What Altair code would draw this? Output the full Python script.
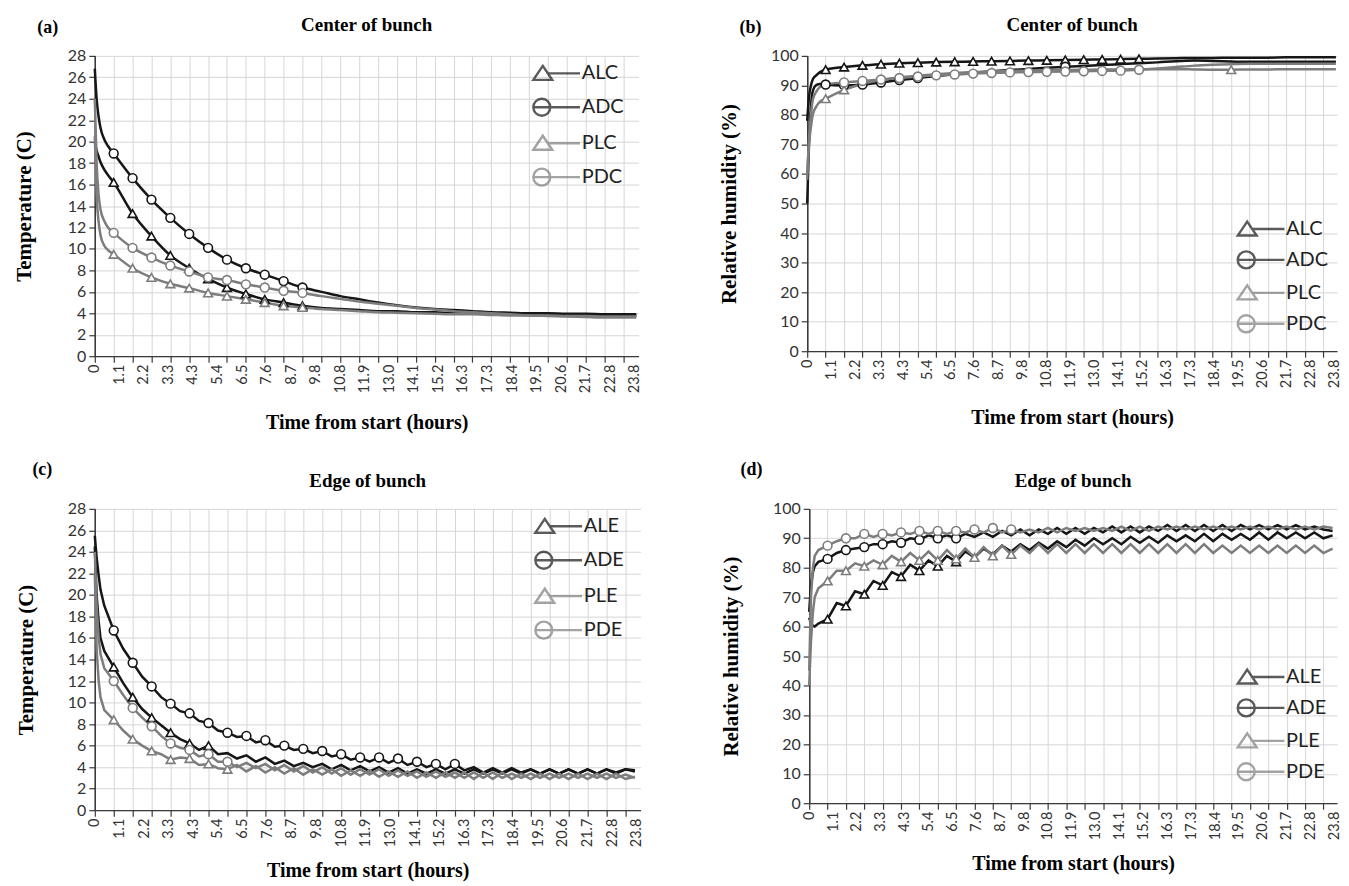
import altair as alt
import pandas as pd

# ------------------------------------------------------------------
# Series names, colours and marker shapes
# ------------------------------------------------------------------
SERIES_CENTER = ["ALC", "ADC", "PLC", "PDC"]
SERIES_EDGE = ["ALE", "ADE", "PLE", "PDE"]
LINE_COLORS = ["#161616", "#161616", "#7d7d7d", "#7d7d7d"]
MARKER_SHAPES = ["triangle-up", "circle", "triangle-up", "circle"]

# legend keys: marker + line segment (Excel style), unit = half symbol size
TRI_KEY = "M-1,0.55L-0.21,-0.62L0.58,0.55Z M0.21,0L2.9,0"
CIR_KEY = ("M0.42,0 C0.42,0.392 0.102,0.71 -0.29,0.71 C-0.682,0.71 -1,0.392 -1,0 "
           "C-1,-0.392 -0.682,-0.71 -0.29,-0.71 C0.102,-0.71 0.42,-0.392 0.42,0 Z M-1,0 L2.9,0")
KEY_PATHS = [TRI_KEY, CIR_KEY, TRI_KEY, CIR_KEY]

# ------------------------------------------------------------------
# Axis tick values
# ------------------------------------------------------------------
LOG_TICKS = [round(k * 5 / 6, 4) for k in range(0, 29)]          # 50-min category ticks
X_LABEL_POS = [round(k * 13 / 12, 4) for k in range(0, 23)]      # 0, 1.1, 2.2 ... 23.8
TEMP_TICKS = [0, 2, 4, 6, 8, 10, 12, 14, 16, 18, 20, 22, 24, 26, 28]
RH_TICKS = [0, 10, 20, 30, 40, 50, 60, 70, 80, 90, 100]

# time grids (hours)
T_AB = [0, 0.08, 0.17, 0.25, 0.42, 0.58] + LOG_TICKS[1:] + [23.9]
T_CD = [0, 0.08, 0.17, 0.25] + [round(i * 5 / 12, 4) for i in range(1, 58)]

# ------------------------------------------------------------------
# (a) Temperature, centre of bunch
# ------------------------------------------------------------------
ALC_A = [20.0, 19.2, 18.6, 18.1, 17.4, 16.9,
         16.2, 13.3, 11.2, 9.4, 8.2, 7.2, 6.4, 5.8, 5.3, 5.0,
         4.7, 4.5, 4.4, 4.3, 4.2, 4.2, 4.1, 4.1, 4.0, 4.0,
         4.0, 3.9, 3.9, 3.9, 3.9, 3.8, 3.8, 3.8,
         3.8]
ADC_A = [26.8, 24.0, 22.3, 21.3, 20.2, 19.6,
         18.9, 16.6, 14.6, 12.9, 11.4, 10.1, 9.0, 8.2, 7.6, 7.0,
         6.4, 6.0, 5.6, 5.3, 5.0, 4.75, 4.55, 4.4, 4.3, 4.2,
         4.1, 4.05, 4.0, 4.0, 3.95, 3.95, 3.9, 3.9,
         3.9]
PLC_A = [20.5, 15.0, 12.5, 11.3, 10.3, 9.9,
         9.5, 8.2, 7.35, 6.75, 6.35, 5.9, 5.6, 5.3, 5.0, 4.7,
         4.55, 4.4, 4.3, 4.2, 4.1, 4.05, 4.0, 3.95, 3.9, 3.9,
         3.85, 3.8, 3.8, 3.8, 3.75, 3.75, 3.7, 3.7,
         3.7]
PDC_A = [24.0, 18.0, 15.0, 13.7, 12.6, 12.0,
         11.5, 10.1, 9.2, 8.45, 7.9, 7.35, 7.1, 6.7, 6.4, 6.1,
         5.9, 5.6, 5.35, 5.1, 4.9, 4.7, 4.5, 4.35, 4.2, 4.1,
         4.0, 3.9, 3.8, 3.75, 3.7, 3.65, 3.6, 3.6,
         3.6]
MARKS_A = {"ALC": range(1, 12), "ADC": range(1, 12), "PLC": range(1, 12), "PDC": range(1, 12)}

# ------------------------------------------------------------------
# (b) Relative humidity, centre of bunch
# ------------------------------------------------------------------
ALC_B = [78, 86, 90, 92, 93.5, 94.5,
         95.3, 96.2, 96.8, 97.2, 97.5, 97.7, 97.9, 98.0, 98.1, 98.2,
         98.3, 98.4, 98.5, 98.6, 98.7, 98.8, 98.9, 99.0, 99.1, 99.2,
         99.3, 99.3, 99.4, 99.4, 99.4, 99.5, 99.5, 99.5,
         99.5]
ADC_B = [50, 70, 83, 88, 90.2, 90.5,
         90.3, 90.0, 90.3, 91.0, 91.8, 92.5, 93.2, 93.8, 94.3, 94.8,
         95.2, 95.6, 96.0, 96.3, 96.6, 96.9, 97.2, 97.5, 97.8, 98.2,
         98.4, 98.3, 98.1, 98.0, 98.0, 98.0, 98.0, 98.0,
         98.0]
PLC_B = [60, 70, 76, 80, 83, 84.5,
         85.5, 88.5, 90.5, 91.8, 92.7, 93.3, 93.8, 94.2, 94.5, 94.7,
         94.9, 95.0, 95.1, 95.2, 95.3, 95.4, 95.4, 95.5, 95.5, 95.5,
         95.4, 95.3, 95.3, 95.4, 95.4, 95.5, 95.5, 95.5,
         95.5]
PDC_B = [58, 72, 80, 85, 88, 89.5,
         90.3, 91.0, 91.5, 92.0, 92.5, 93.0, 93.4, 93.7, 94.0, 94.2,
         94.4, 94.5, 94.6, 94.7, 94.8, 94.9, 95.0, 95.3, 95.7, 96.2,
         96.7, 97.0, 97.2, 97.3, 97.3, 97.3, 97.3, 97.3,
         97.3]
MARKS_B = {"ALC": range(1, 19), "ADC": [1, 2, 3, 4, 5, 6, 14], "PLC": [1, 2, 23], "PDC": range(2, 19)}

# ------------------------------------------------------------------
# (c) Temperature, edge of bunch
# ------------------------------------------------------------------
ALE_C = [24.5, 20.0, 17.5, 16.0,
         14.8, 13.3, 11.8, 10.5, 9.4, 8.6, 7.9, 7.2, 6.6, 6.2,
         5.6, 6.0, 5.2, 5.3, 4.8, 5.1, 4.5, 4.9, 4.3, 4.6,
         4.1, 4.4, 4.0, 4.3, 3.8, 4.2, 3.7, 4.1, 3.6, 4.0,
         3.5, 3.9, 3.4, 3.8, 3.4, 3.8, 3.4, 3.8, 3.4, 3.8,
         3.4, 3.8, 3.4, 3.8, 3.4, 3.8, 3.4, 3.8, 3.4, 3.8,
         3.4, 3.8, 3.4, 3.8, 3.4, 3.8, 3.7]
ADE_C = [25.5, 23.5, 21.8, 20.5,
         19.0, 16.7, 15.0, 13.7, 12.4, 11.5, 10.5, 9.9, 9.2, 9.0,
         8.3, 8.1, 7.4, 7.2, 6.8, 6.9, 6.3, 6.5, 5.9, 6.0,
         5.6, 5.7, 5.3, 5.5, 5.0, 5.2, 4.7, 4.9, 4.5, 4.9,
         4.4, 4.8, 4.2, 4.5, 4.0, 4.3, 3.8, 4.3, 3.7, 4.0,
         3.5, 3.9, 3.5, 3.9, 3.5, 3.8, 3.4, 3.8, 3.4, 3.8,
         3.4, 3.8, 3.4, 3.8, 3.5, 3.8, 3.6]
PLE_C = [22.0, 15.0, 12.0, 10.5,
         9.3, 8.4, 7.4, 6.6, 6.0, 5.5, 5.2, 4.7, 4.9, 4.8,
         4.2, 4.3, 3.9, 3.8, 4.2, 3.6, 4.1, 3.5, 4.0, 3.4,
         3.9, 3.3, 3.8, 3.3, 3.8, 3.2, 3.7, 3.2, 3.7, 3.1,
         3.6, 3.1, 3.6, 3.0, 3.5, 3.0, 3.5, 3.0, 3.5, 2.9,
         3.5, 2.9, 3.5, 2.9, 3.4, 2.9, 3.4, 2.9, 3.4, 2.9,
         3.4, 2.9, 3.4, 2.9, 3.4, 2.9, 3.1]
PDE_C = [24.0, 19.0, 16.0, 14.5,
         13.2, 12.0, 10.7, 9.5, 8.6, 7.8, 6.9, 6.2, 5.8, 5.6,
         5.0, 5.2, 4.5, 4.5, 4.0, 4.4, 3.9, 4.3, 3.7, 4.2,
         3.6, 4.1, 3.5, 4.0, 3.4, 3.9, 3.3, 3.8, 3.3, 3.8,
         3.2, 3.7, 3.2, 3.6, 3.1, 3.6, 3.1, 3.5, 3.0, 3.5,
         3.0, 3.5, 3.0, 3.4, 3.0, 3.4, 3.0, 3.4, 3.0, 3.4,
         3.0, 3.4, 3.0, 3.4, 3.0, 3.3, 3.0]
MARKS_C = {"ALE": range(1, 7), "ADE": range(1, 20), "PLE": range(1, 8), "PDE": range(1, 8)}

# ------------------------------------------------------------------
# (d) Relative humidity, edge of bunch
# ------------------------------------------------------------------
ALE_D = [63.0, 61.0, 60.3, 60.0,
         61.0, 62.5, 68.0, 67.0, 72.0, 71.0, 75.5, 74.0, 78.5, 77.0,
         81.0, 79.0, 82.5, 80.5, 84.0, 82.0, 85.5, 83.5, 86.5, 84.5,
         87.5, 85.5, 88.0, 86.0, 88.5, 86.5, 89.0, 87.0, 89.5, 87.5,
         90.0, 88.0, 90.0, 88.0, 90.5, 88.5, 90.5, 88.5, 91.0, 89.0,
         91.0, 89.0, 91.5, 89.0, 91.5, 89.5, 91.5, 89.5, 92.0, 89.5,
         92.0, 90.0, 92.0, 90.0, 92.0, 90.0, 91.0]
ADE_D = [65.0, 74.0, 78.5, 80.5,
         82.0, 83.0, 85.0, 86.0, 86.5, 87.0, 88.0, 88.0, 89.0, 88.5,
         90.0, 89.5, 91.0, 90.0, 91.0, 90.0, 91.5, 90.5, 92.0, 90.5,
         92.5, 91.0, 93.0, 91.0, 93.0, 91.5, 93.5, 91.5, 93.5, 91.5,
         93.5, 92.0, 94.0, 92.0, 94.0, 92.0, 94.0, 92.5, 94.5, 92.5,
         94.5, 92.5, 94.5, 92.5, 94.5, 92.5, 94.5, 93.0, 94.5, 93.0,
         94.5, 93.0, 94.5, 93.0, 94.0, 93.0, 92.5]
PLE_D = [40.0, 55.0, 65.0, 70.0,
         73.0, 75.5, 79.0, 79.0, 81.5, 80.5, 82.5, 81.0, 84.0, 82.0,
         85.0, 82.5, 85.5, 82.5, 86.0, 83.0, 86.5, 83.5, 87.0, 84.0,
         87.5, 84.5, 87.5, 85.0, 88.0, 85.0, 88.0, 85.0, 88.0, 85.0,
         88.0, 85.0, 88.0, 85.0, 88.0, 85.0, 88.0, 85.0, 88.0, 85.0,
         88.0, 85.0, 88.0, 85.0, 87.5, 85.0, 87.5, 85.0, 87.5, 85.0,
         87.5, 85.0, 87.5, 85.0, 87.5, 85.0, 86.5]
PDE_D = [45.0, 70.0, 80.0, 84.0,
         86.0, 87.5, 89.0, 90.0, 90.0, 91.5, 90.5, 91.5, 91.0, 92.0,
         91.5, 92.5, 91.5, 92.5, 91.5, 92.5, 92.0, 93.0, 92.0, 93.5,
         92.0, 93.0, 92.0, 93.0, 92.0, 93.5, 92.0, 93.5, 92.5, 93.5,
         92.5, 93.5, 92.5, 94.0, 92.5, 94.0, 92.5, 94.0, 93.0, 94.0,
         93.0, 94.0, 93.0, 94.0, 93.0, 94.0, 93.0, 94.0, 93.0, 94.0,
         93.0, 94.0, 93.0, 94.0, 93.0, 94.0, 93.5]
MARKS_D = {"ALE": range(1, 9), "ADE": range(1, 9), "PLE": range(1, 12), "PDE": range(1, 12)}

# ------------------------------------------------------------------
FONT_SANS = "Lato"
FONT_SERIF = "Liberation Serif"
GRID = "#d6d6d6"
AXIS = "#3a3a3a"


def build(times, series, values, marks):
    rows = []
    for s, vals in zip(series, values):
        assert len(vals) == len(times), (s, len(vals), len(times))
        mts = [LOG_TICKS[k] for k in marks[s]]
        for t, v in zip(times, vals):
            rows.append({"t": t, "v": v, "s": s,
                         "m": any(abs(t - mt) < 1e-6 for mt in mts)})
    return pd.DataFrame(rows)


def y_axis(values, title, ytp):
    opts = dict(orient="left", values=values, grid=True, gridColor=GRID, gridWidth=1,
                domainColor=AXIS, domainWidth=1.3, tickColor=AXIS, tickSize=6,
                tickWidth=1.2, labelFont=FONT_SANS, labelFontSize=16,
                labelColor="#333333", labelPadding=3, labelOverlap=False)
    if title is None:
        return alt.Axis(title=None, **opts)
    return alt.Axis(title=title, titleFont=FONT_SERIF, titleFontSize=21,
                    titleFontWeight="bold", titleColor="black", titlePadding=ytp, **opts)


def panel(df, series, yticks, ytitle, title, tag, w, h, xmax, interp,
          lx, ly, rowpad, tag_off, tag_dx, ytp, xtp, title_off):
    xs = alt.Scale(domain=[0, xmax], nice=False, zero=False)
    ys = alt.Scale(domain=[0, yticks[-1]], nice=False)
    y_major = yticks[0::2]      # labelled on the line layer's axis
    y_minor = yticks[1::2]      # labelled on the marker layer's axis
    grid_axis = alt.Axis(orient="bottom", values=LOG_TICKS, labels=False, ticks=True,
                         tickSize=6, tickColor=AXIS, tickWidth=1.2, grid=True,
                         gridColor=GRID, gridWidth=1, domain=True, domainColor=AXIS,
                         domainWidth=1.3, title=None)
    label_axis = alt.Axis(orient="bottom", values=X_LABEL_POS,
                          labelExpr="datum.value == 0 ? '0' : format(datum.value, '.1f')",
                          labelAngle=-90, labelFont=FONT_SANS, labelFontSize=14.5,
                          labelColor="#333333", labelPadding=8, labelOverlap=False,
                          ticks=False, grid=False, domain=False,
                          title="Time from start (hours)", titleFont=FONT_SERIF,
                          titleFontSize=20, titleFontWeight="bold", titleColor="black",
                          titlePadding=xtp)
    legend = alt.Legend(orient="none", legendX=lx, legendY=ly, title=None,
                        symbolSize=576, symbolStrokeWidth=2.4, labelFont=FONT_SANS,
                        labelFontSize=20, labelColor="#222222", labelOffset=23,
                        rowPadding=rowpad)
    base = alt.Chart(df)
    key = base.transform_filter("false").mark_point(filled=False).encode(
        color=alt.Color("s:N", scale=alt.Scale(domain=series, range=LINE_COLORS), legend=legend),
        shape=alt.Shape("s:N", scale=alt.Scale(domain=series, range=KEY_PATHS), legend=legend),
    )
    lines = base.mark_line(strokeWidth=2.5, interpolate=interp).encode(
        x=alt.X("t:Q", scale=xs, axis=grid_axis),
        y=alt.Y("v:Q", scale=ys, axis=y_axis(y_major, ytitle, ytp)),
        color=alt.Color("s:N", scale=alt.Scale(domain=series, range=LINE_COLORS), legend=None),
    )
    pts = base.transform_filter("datum.m").mark_point(
        filled=True, fill="white", size=78, strokeWidth=1.6, opacity=1).encode(
        x=alt.X("t:Q", scale=xs, axis=label_axis),
        y=alt.Y("v:Q", scale=ys, axis=y_axis(y_minor, None, ytp)),
        stroke=alt.Stroke("s:N", scale=alt.Scale(domain=series, range=LINE_COLORS), legend=None),
        shape=alt.Shape("s:N", scale=alt.Scale(domain=series, range=MARKER_SHAPES), legend=None),
    )
    layered = alt.layer(key, lines, pts).resolve_scale(
        color="independent", shape="independent").resolve_axis(
        x="independent", y="independent").properties(
        width=w, height=h,
        title=alt.TitleParams(title, font=FONT_SERIF, fontSize=19, fontWeight="bold",
                              color="black", anchor="middle", frame="group", offset=title_off))
    return alt.vconcat(layered).properties(
        title=alt.TitleParams(tag, font=FONT_SERIF, fontSize=18, fontWeight="bold",
                              color="black", anchor="start", offset=tag_off, dx=tag_dx))


df_a = build(T_AB, SERIES_CENTER, [ALC_A, ADC_A, PLC_A, PDC_A], MARKS_A)
df_b = build(T_AB, SERIES_CENTER, [ALC_B, ADC_B, PLC_B, PDC_B], MARKS_B)
df_c = build(T_CD, SERIES_EDGE, [ALE_C, ADE_C, PLE_C, PDE_C], MARKS_C)
df_d = build(T_CD, SERIES_EDGE, [ALE_D, ADE_D, PLE_D, PDE_D], MARKS_D)

pa = panel(df_a, SERIES_CENTER, TEMP_TICKS, "Temperature (C)", "Center of bunch", "(a)",
           545, 301, 24.0, "monotone", 438, 4, 9, -21, 24, 33, 20, 13)
pb = panel(df_b, SERIES_CENTER, RH_TICKS, "Relative humidity (%)", "Center of bunch", "(b)",
           531, 296, 23.95, "monotone", 430, 160, 6, -21, 21, 31, 20, 13)
pc = panel(df_c, SERIES_EDGE, TEMP_TICKS, "Temperature (C)", "Edge of bunch", "(c)",
           547, 302, 24.0, "linear", 440, 4, 9, -7, 17, 31, 14, 10)
pd_ = panel(df_d, SERIES_EDGE, RH_TICKS, "Relative humidity (%)", "Edge of bunch", "(d)",
            529, 295, 23.95, "linear", 428, 155, 6, -7, 20, 31, 14, 10)

chart = alt.vconcat(
    alt.hconcat(pa, pb, spacing=77),
    alt.hconcat(pc, pd_, spacing=77),
    spacing=28,
).properties(
    padding={"left": 5, "top": 7, "right": 0, "bottom": 0}
).configure_view(stroke=None)

chart.save("out.html", embed_options={"renderer": "svg", "actions": False})
